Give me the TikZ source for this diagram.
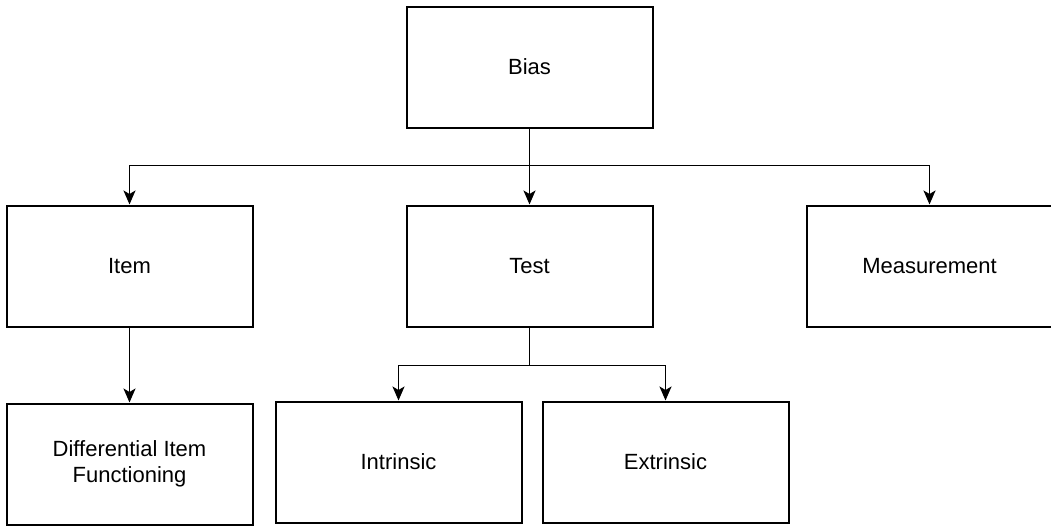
\documentclass[tikz,border=0pt]{standalone}
\usepackage{fontspec}
\setmainfont{Liberation Sans}
\usetikzlibrary{arrows.meta, positioning}

\begin{document}
\begin{tikzpicture}[x=1pt, y=1pt,
        node distance=76pt and 152pt,
        every node/.style={font=\fontsize{22}{26}\selectfont},
        box/.style={draw=black, line width=2pt, fill=white, align=center,
            minimum width=246pt, minimum height=121pt, inner sep=0pt},
        arrow/.style={-{Stealth[length=14pt,width=12pt,inset=3.5pt]}, draw=black, line width=1.8pt},]

        \useasboundingbox (0,0) rectangle (1051,-525);

        \node[box] (bias) at (529.5,-67) {Bias};

        \node[box] (test) [below=of bias] {Test};
        \node[box] (item) [left=of test] {Item};
        \node[box] (meas) [right=of test] {Measurement};

        \node[box] (dif) [below=75pt of item] {Differential Item\\Functioning};
        \node[box] (intr) at (398.5,-462) {Intrinsic};
        \node[box] (extr) [right=19pt of intr] {Extrinsic};

        \coordinate[below=37pt of bias.south] (bias_split);
        \coordinate[below=38pt of test.south] (test_split);

        \draw[line width=1.8pt] (bias.south) -- (bias_split);
        \draw[arrow] (bias_split) -| (item.north);
        \draw[arrow] (bias_split) -- (test.north);
        \draw[arrow] (bias_split) -| (meas.north);

        \draw[arrow] (item.south) -- (dif.north);

        \draw[line width=1.8pt] (test.south) -- (test_split);
        \draw[arrow] (test_split) -| (intr.north);
        \draw[arrow] (test_split) -| (extr.north);

    \end{tikzpicture}
\end{document}
